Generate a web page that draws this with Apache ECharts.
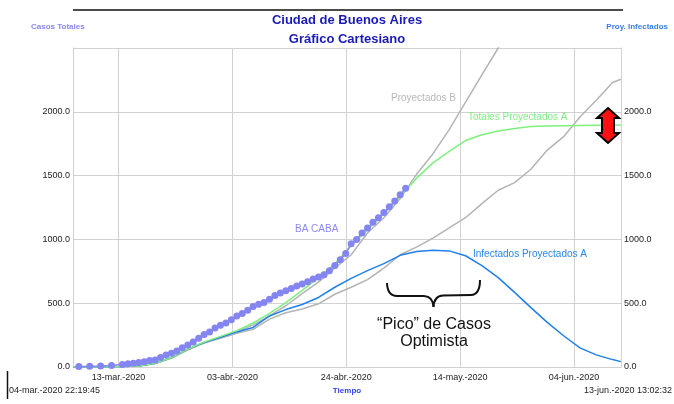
<!DOCTYPE html>
<html><head><meta charset="utf-8">
<script src="https://cdn.jsdelivr.net/npm/echarts@6/dist/echarts.min.js"></script>
<style>html,body{margin:0;padding:0;background:#fff}#c{width:674px;height:404px}</style>
</head><body><div id="c"></div>
<script>
// x = days since 04-mar-2020 00:00
const xMin = 0.93, xMax = 101.54;
const tickDays = [9.3, 30.2, 51.1, 72.0, 92.9];
const tickLabels = ['13-mar.-2020','03-abr.-2020','24-abr.-2020','14-may.-2020','04-jun.-2020'];

const modelDays = [1,4,7,10,13,16,19,22,25,28,31,34,37,40,43,46,49,52,55,58,61,64,67,70,73,76,79,82,85,88,91,94,97,100,101.5];
const totalesA   = [0,0,1,3,8,30,75,140,195,240,285,345,420,505,600,700,810,950,1075,1200,1335,1480,1600,1690,1775,1820,1850,1870,1884,1889,1891,1893,1895,1896,1897];
const totalesB   = [0,0,1,3,8,28,70,135,190,232,275,330,400,480,575,665,775,880,1050,1170,1320,1510,1670,1860,2075,2290,2500,2720,2900,3100,3300,3500,3700,3900,4000];
const infectadosA= [0,0,1,3,8,30,75,140,192,232,275,310,400,450,490,545,625,695,755,810,875,905,915,910,872,795,700,585,465,350,245,150,95,58,42];
const infectadosB= [0,0,1,3,8,28,70,135,188,225,265,295,375,425,455,495,570,625,685,775,880,940,1010,1090,1170,1280,1385,1445,1550,1700,1805,1960,2090,2230,2255];

const cabaDays = [2,4,6,8,10,11,12,13,14,15,16,17,18,19,20,21,22,23,24,25,26,27,28,29,30,31,32,33,34,35,36,37,38,39,40,41,42,43,44,45,46,47,48,49,50,51,52,53,54,55,56,57,58,59,60,61,62];
const cabaVals = [3,5,8,12,20,25,29,36,42,50,55,75,95,108,125,150,172,195,225,255,275,305,328,345,370,400,420,445,475,492,505,530,560,580,598,615,635,650,668,690,705,722,755,795,840,890,965,1000,1050,1090,1135,1170,1210,1255,1300,1350,1400];

const pair = (xs, ys) => xs.map((x, i) => [x, ys[i]]);
const F = '"Liberation Sans", Arial, sans-serif';

function txt(x, y, text, font, fill, align) {
  return {type: 'text', x: x, y: y, z: 50, style: {text: text, font: font, fill: fill,
    align: align, verticalAlign: 'middle', textAlign: align, textVerticalAlign: 'middle'}};
}
function bez(x1, y1, cx, cy, x2, y2) {
  return {type: 'bezierCurve', z: 50, shape: {x1: x1, y1: y1, cpx1: cx, cpy1: cy, x2: x2, y2: y2},
    style: {stroke: '#111', lineWidth: 2, fill: null}};
}
function seg(x1, y1, x2, y2, w) {
  return {type: 'line', z: 50, shape: {x1: x1, y1: y1, x2: x2, y2: y2}, style: {stroke: '#111', lineWidth: w || 2}};
}

const chart = echarts.init(document.getElementById('c'), null, {renderer: 'canvas'});
const yAxisCommon = {
  type: 'value', min: 0, max: 2500, interval: 500,
  axisLine: {show: true, lineStyle: {color: '#d2d2d2', width: 1}},
  axisTick: {show: false},
  axisLabel: {color: '#222', fontSize: 9, fontFamily: F, margin: 3,
    formatter: v => v >= 2500 ? '' : v.toFixed(1)}
};
chart.setOption({
  animation: false,
  backgroundColor: '#fff',
  grid: {left: 73, right: 53, top: 48, bottom: 37, containLabel: false},
  xAxis: {
    type: 'value', min: xMin, max: xMax,
    axisLine: {show: true, lineStyle: {color: '#d2d2d2'}},
    axisTick: {show: false, customValues: tickDays},
    axisLabel: {customValues: tickDays, color: '#222', fontSize: 9, fontFamily: F, margin: 6,
      formatter: v => { const i = tickDays.findIndex(t => Math.abs(t - v) < 1e-6); return i >= 0 ? tickLabels[i] : ''; }},
    splitLine: {show: true, lineStyle: {color: '#d2d2d2', width: 1}}
  },
  yAxis: [
    Object.assign({}, yAxisCommon, {position: 'left', splitLine: {show: true, lineStyle: {color: '#d2d2d2', width: 1}}}),
    Object.assign({}, yAxisCommon, {position: 'right', splitLine: {show: false}})
  ],
  series: [
    {name: 'Totales Proyectados B', type: 'line', yAxisIndex: 0, data: pair(modelDays, totalesB), symbol: 'none',
      lineStyle: {color: '#b4b4b4', width: 1.5}, z: 2, clip: true},
    {name: 'Infectados Proyectados B', type: 'line', yAxisIndex: 1, data: pair(modelDays, infectadosB), symbol: 'none',
      lineStyle: {color: '#b4b4b4', width: 1.5}, z: 2, clip: true},
    {name: 'Infectados Proyectados A', type: 'line', yAxisIndex: 1, data: pair(modelDays, infectadosA), symbol: 'none',
      lineStyle: {color: '#1f80ec', width: 1.5}, z: 3, clip: true},
    {name: 'Totales Proyectados A', type: 'line', yAxisIndex: 0, data: pair(modelDays, totalesA), symbol: 'none',
      lineStyle: {color: '#7ef07e', width: 1.5}, z: 4, clip: true},
    {name: 'BA CABA', type: 'line', yAxisIndex: 0, data: pair(cabaDays, cabaVals), symbol: 'circle', symbolSize: 7,
      itemStyle: {color: '#8585f2'}, lineStyle: {color: '#8585f2', width: 1.5}, z: 5, clip: true}
  ],
  graphic: [
    seg(73, 10, 623, 10, 1.5),
    txt(347, 20, 'Ciudad de Buenos Aires', 'bold 13px ' + F, '#1a1ab8', 'center'),
    txt(347, 39, 'Gráfico Cartesiano', 'bold 13px ' + F, '#1a1ab8', 'center'),
    txt(31, 27, 'Casos Totales', 'bold 8px ' + F, '#8888f0', 'left'),
    txt(668, 27, 'Proy. Infectados', 'bold 8px ' + F, '#3a7ee6', 'right'),
    txt(9, 391, '04-mar.-2020 22:19:45', '9px ' + F, '#222', 'left'),
    txt(347, 391, 'Tiempo', 'bold 8px ' + F, '#3344ee', 'center'),
    txt(672, 391, '13-jun.-2020 13:02:32', '9px ' + F, '#222', 'right'),
    seg(7.5, 371, 7.5, 399, 1.5),
    txt(391, 98.5, 'Proyectados B', '10px ' + F, '#b8b8b8', 'left'),
    txt(468, 117.5, 'Totales Proyectados A', '10px ' + F, '#80ee80', 'left'),
    txt(295, 229, 'BA CABA', '10px ' + F, '#8a8af2', 'left'),
    txt(473, 254.5, 'Infectados Proyectados A', '10px ' + F, '#2a86ee', 'left'),
    txt(434, 324.5, '\u201cPico\u201d de Casos', '16px ' + F, '#111', 'center'),
    txt(434, 341.5, 'Optimista', '16px ' + F, '#111', 'center'),
    bez(387, 283, 387.5, 296, 397, 296),
    seg(397, 296, 424, 296),
    bez(424, 296, 433, 296.5, 433.5, 307),
    bez(433.5, 307, 434, 296, 443, 295.5),
    seg(443, 295.5, 471, 295),
    bez(471, 295, 480, 294.5, 480, 280),
    {type: 'polygon', z: 100, shape: {points: [[608,108],[619,118],[614,118],[614,133],[619,133],[608,143],[597,133],[602,133],[602,118],[597,118]]},
      style: {fill: '#ff1010', stroke: '#000', lineWidth: 2}}
  ]
});
</script></body></html>
